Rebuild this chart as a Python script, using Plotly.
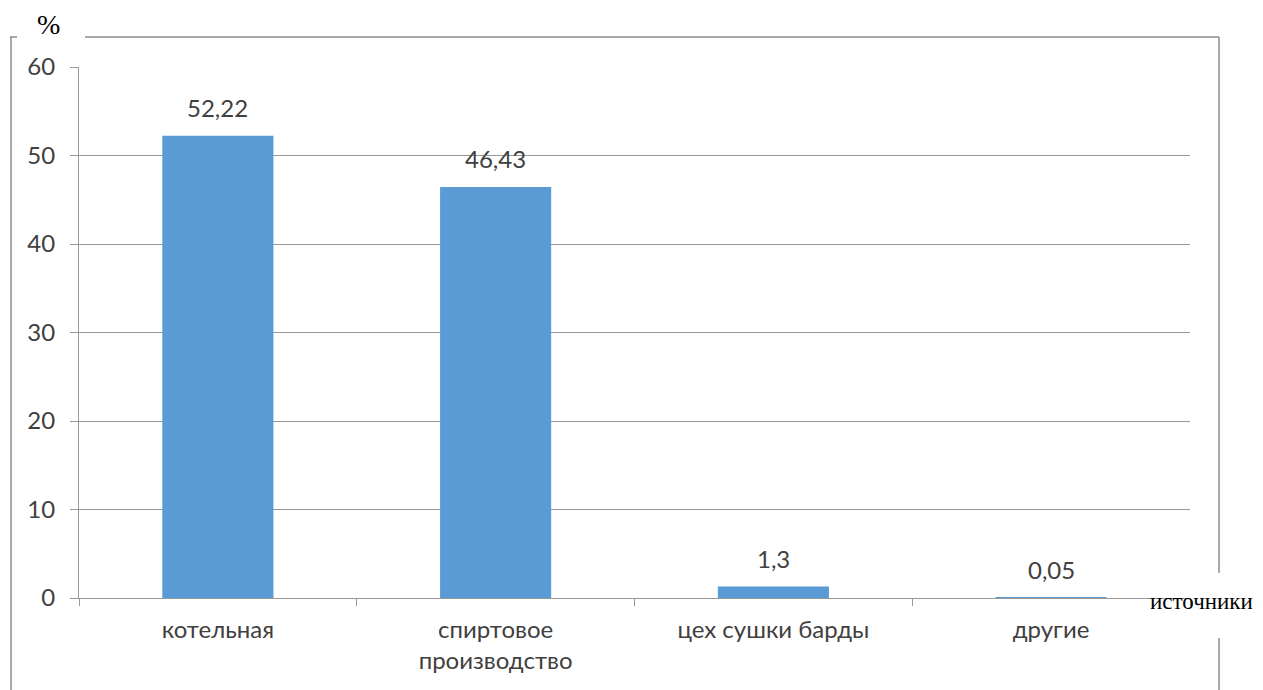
import plotly.graph_objects as go

# данные
categories = ["котельная", "спиртовое<br>производство", "цех сушки барды", "другие"]
values = [52.22, 46.43, 1.3, 0.05]
labels = ["52,22", "46,43", "1,3", "0,05"]
y_ticks = [0, 10, 20, 30, 40, 50, 60]

W, H = 1263, 690
OFF = 8  # page body margin
L, R, T, B = 79 - OFF, 1190 - OFF, 67 - OFF, 598 - OFF  # plot area, figure pixels


def px_x(x):
    return (x - OFF - L) / (R - L)


def px_y(y):
    return (B - (y - OFF)) / (B - T)


fig = go.Figure()
fig.add_trace(go.Bar(
    x=categories, y=values,
    marker=dict(color="#5B9BD5", line=dict(width=0)),
    width=0.4,
    hoverinfo="skip",
))

# подписи значений над столбцами
for c, v, t in zip(categories, values, labels):
    fig.add_annotation(x=c, y=v, text=t, showarrow=False, yanchor="bottom",
                       yshift=12, font=dict(size=24, color="#404040", family="Lato"))

# рамка
grey = "#999999"
frame = [
    (10, 37, 17, 37),
    (85, 37, 1219, 37),
    (11, 37, 11, 700),
    (1219, 37, 1219, 573),
    (1219, 638, 1219, 700),
]
for x0, y0, x1, y1 in frame:
    fig.add_shape(type="line", xref="paper", yref="paper",
                  x0=px_x(x0), y0=px_y(y0), x1=px_x(x1), y1=px_y(y1),
                  line=dict(color="#8c8c8c", width=1.5))

fig.add_annotation(xref="paper", yref="paper", x=px_x(48), y=px_y(24), text="%",
                   xanchor="center", yanchor="middle", showarrow=False,
                   font=dict(size=28, color="black", family="Liberation Serif"))
fig.add_annotation(xref="paper", yref="paper", x=px_x(1201), y=px_y(601), text="источники",
                   xanchor="center", yanchor="middle", showarrow=False,
                   font=dict(size=23, color="black", family="Liberation Serif"))

fig.update_layout(
    width=W, height=H,
    margin=dict(l=L, r=W - R, t=T, b=H - B),
    plot_bgcolor="white", paper_bgcolor="white",
    showlegend=False,
    font=dict(family="Lato", size=24, color="#404040"),
)
fig.update_xaxes(
    showline=True, linecolor=grey, linewidth=1.2,
    ticks="outside", tickson="boundaries", ticklen=7, tickcolor=grey,
    ticklabelstandoff=10,
    showgrid=False, tickfont=dict(size=24, color="#404040"),
)
fig.update_yaxes(
    range=[0, 60], tickvals=y_ticks,
    showline=True, linecolor=grey, linewidth=1.2,
    ticks="outside", ticklen=8, tickcolor=grey,
    ticklabelstandoff=10,
    showgrid=True, gridcolor=grey, gridwidth=1,
    zeroline=False, tickfont=dict(size=24, color="#404040"),
)

fig.write_html("out.html")
